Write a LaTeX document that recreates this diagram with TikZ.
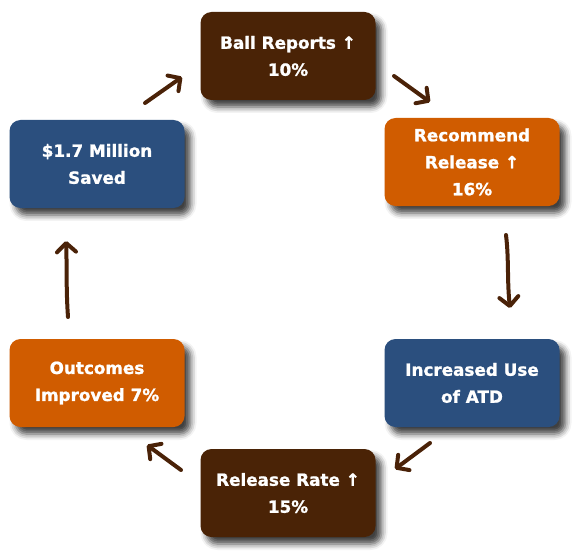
\documentclass[tikz,border=0pt]{standalone}
\usepackage{fontspec}
\setmainfont{DejaVu Sans}[BoldFeatures={FakeBold=1.2}]
\usetikzlibrary{arrows.meta,shadows.blur}
\definecolor{boxbrown}{HTML}{4A2306}
\definecolor{boxorange}{HTML}{D05C00}
\definecolor{boxblue}{HTML}{2B4F7E}
\definecolor{arrbrown}{HTML}{4A2208}
\tikzset{
  stage/.style={minimum width=175pt, minimum height=88pt, rounded corners=11pt,
    text=white, align=center, inner sep=0pt,
    font=\bfseries\fontsize{16.8}{27}\selectfont,
    blur shadow={shadow xshift=6pt, shadow yshift=-7pt, shadow blur radius=6pt, shadow opacity=75}},
  flow/.style={draw=arrbrown, line width=4pt, line cap=round,
    -{Straight Barb[length=9pt, width=19pt, line width=4pt, round]}}
}
\begin{document}
\begin{tikzpicture}[x=1pt,y=1pt]
\useasboundingbox (0,0) rectangle (572,550);
\node[stage, fill=boxbrown] (ball) at (288,494) {Ball Reports ↑\\10\%};
\node[stage, fill=boxorange] (rec) at (472,388) {Recommend\\Release ↑\\16\%};
\node[stage, fill=boxblue] (saved) at (97,386) {\$1.7 Million\\Saved};
\node[stage, fill=boxorange] (outc) at (97,167) {Outcomes\\Improved 7\%};
\node[stage, fill=boxblue] (atd) at (472,167) {Increased Use\\of ATD};
\node[stage, fill=boxbrown] (rate) at (288,57) {Release Rate ↑\\15\%};
\coordinate (a1s) at (145,447);
\coordinate (a1e) at (182,473);
\coordinate (a2s) at (394,474);
\coordinate (a2e) at (430,448);
\coordinate (a3s) at (506,315);
\coordinate (a3e) at (510,242);
\coordinate (a4s) at (430,107);
\coordinate (a4e) at (395,81);
\coordinate (a5s) at (181,80);
\coordinate (a5e) at (147,105);
\coordinate (a6s) at (68,233);
\coordinate (a6e) at (66,309);
\draw[flow] (a1s) -- (a1e);
\draw[flow] (a2s) -- (a2e);
\draw[flow] (a3s) .. controls (509,290) and (507,270) .. (a3e);
\draw[flow] (a4s) -- (a4e);
\draw[flow] (a5s) -- (a5e);
\draw[flow] (a6s) .. controls (66,260) and (67,285) .. (a6e);
\end{tikzpicture}
\end{document}
